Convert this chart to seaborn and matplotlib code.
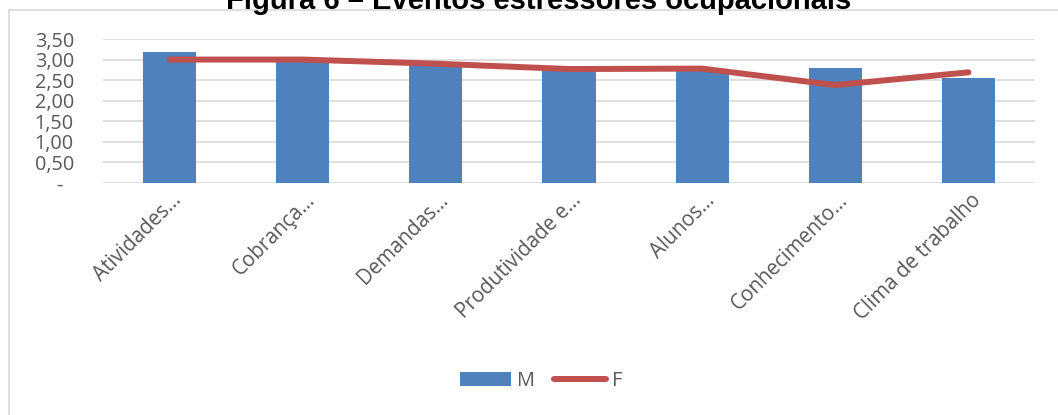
import matplotlib
matplotlib.use("Agg")
import matplotlib.pyplot as plt
import matplotlib.transforms as mtransforms
from matplotlib.patches import Patch
from matplotlib.lines import Line2D
import seaborn as sns
import numpy as np

categories = ["Atividades…", "Cobrança…", "Demandas…", "Produtividade e…",
              "Alunos…", "Conhecimento…", "Clima de trabalho"]
M = [3.18, 2.97, 2.88, 2.75, 2.75, 2.79, 2.55]
F = [3.00, 3.00, 2.90, 2.77, 2.78, 2.38, 2.69]
yticks = [0, 0.5, 1.0, 1.5, 2.0, 2.5, 3.0, 3.5]
ytick_labels = ["-  ", "0,50", "1,00", "1,50", "2,00", "2,50", "3,00", "3,50"]
title = "Figura 6 – Eventos estressores ocupacionais"

BLUE = "#4f81bd"
RED = "#c0504d"
GRAY_TXT = "#595959"
GRID = "#d9d9d9"

sns.set_theme(style="white")
plt.rcParams['font.family'] = ['Open Sans', 'DejaVu Sans']

W, H = 1058, 415
fig = plt.figure(figsize=(W / 100, H / 100), dpi=100)
ax = fig.add_axes([103 / W, 1 - 183 / H, (1035 - 103) / W, (183 - 39) / H])

sns.barplot(x=categories, y=M, color=BLUE, saturation=1, width=0.4,
            linewidth=0, ax=ax, zorder=2)
sns.pointplot(x=categories, y=F, color=RED, markers="", linestyles="-",
              errorbar=None, ax=ax, lw=4.3, solid_capstyle="round", zorder=3)

ax.set_xlim(-0.5, len(categories) - 0.5)
ax.set_ylim(0, 3.5)
ax.set_yticks(yticks)
ax.set_yticklabels(ytick_labels)
ax.set_axisbelow(True)
ax.yaxis.grid(True, color=GRID, lw=1.2)
ax.xaxis.grid(False)
for s in ax.spines.values():
    s.set_visible(False)
ax.set_xlabel("")
ax.set_ylabel("")

ax.tick_params(axis="y", length=0, pad=21, labelsize=14.3, labelcolor=GRAY_TXT)
ax.tick_params(axis="x", length=0, pad=13, labelsize=14.8, labelcolor=GRAY_TXT)
ax.set_xticks(range(len(categories)))
ax.set_xticklabels(categories, rotation=45, ha="right", va="baseline",
                   rotation_mode="anchor")
offset = mtransforms.ScaledTranslation(13 / 100, 0, fig.dpi_scale_trans)
for lab in ax.get_xticklabels():
    lab.set_transform(lab.get_transform() + offset)

# chart frame (partially visible)
fig.add_artist(Line2D([9 / W, 1], [1 - 10.5 / H, 1 - 10.5 / H],
                      transform=fig.transFigure, color=GRID, lw=1.2))
fig.add_artist(Line2D([9 / W, 9 / W], [0, 1 - 10.5 / H],
                      transform=fig.transFigure, color=GRID, lw=1.2))

# title is clipped at the top edge in the reference
fig.text(539 / W, 1 - 9 / H, title, ha="center", va="baseline",
         fontsize=21, fontweight="bold", color="black",
         family=["Liberation Sans", "DejaVu Sans"])

handles = [Patch(facecolor=BLUE, edgecolor="none", label="M"),
           Line2D([0], [0], color=RED, lw=4.3, solid_capstyle="round", label="F")]
leg = fig.legend(handles=handles, loc="center", bbox_to_anchor=(541 / W, 1 - 381 / H),
                 ncol=2, frameon=False, fontsize=14.3, handlelength=2.6,
                 handleheight=0.7, handletextpad=0.3, columnspacing=0.95,
                 borderpad=0.2)
for t in leg.get_texts():
    t.set_color(GRAY_TXT)

fig.savefig("out.png", dpi=100)
